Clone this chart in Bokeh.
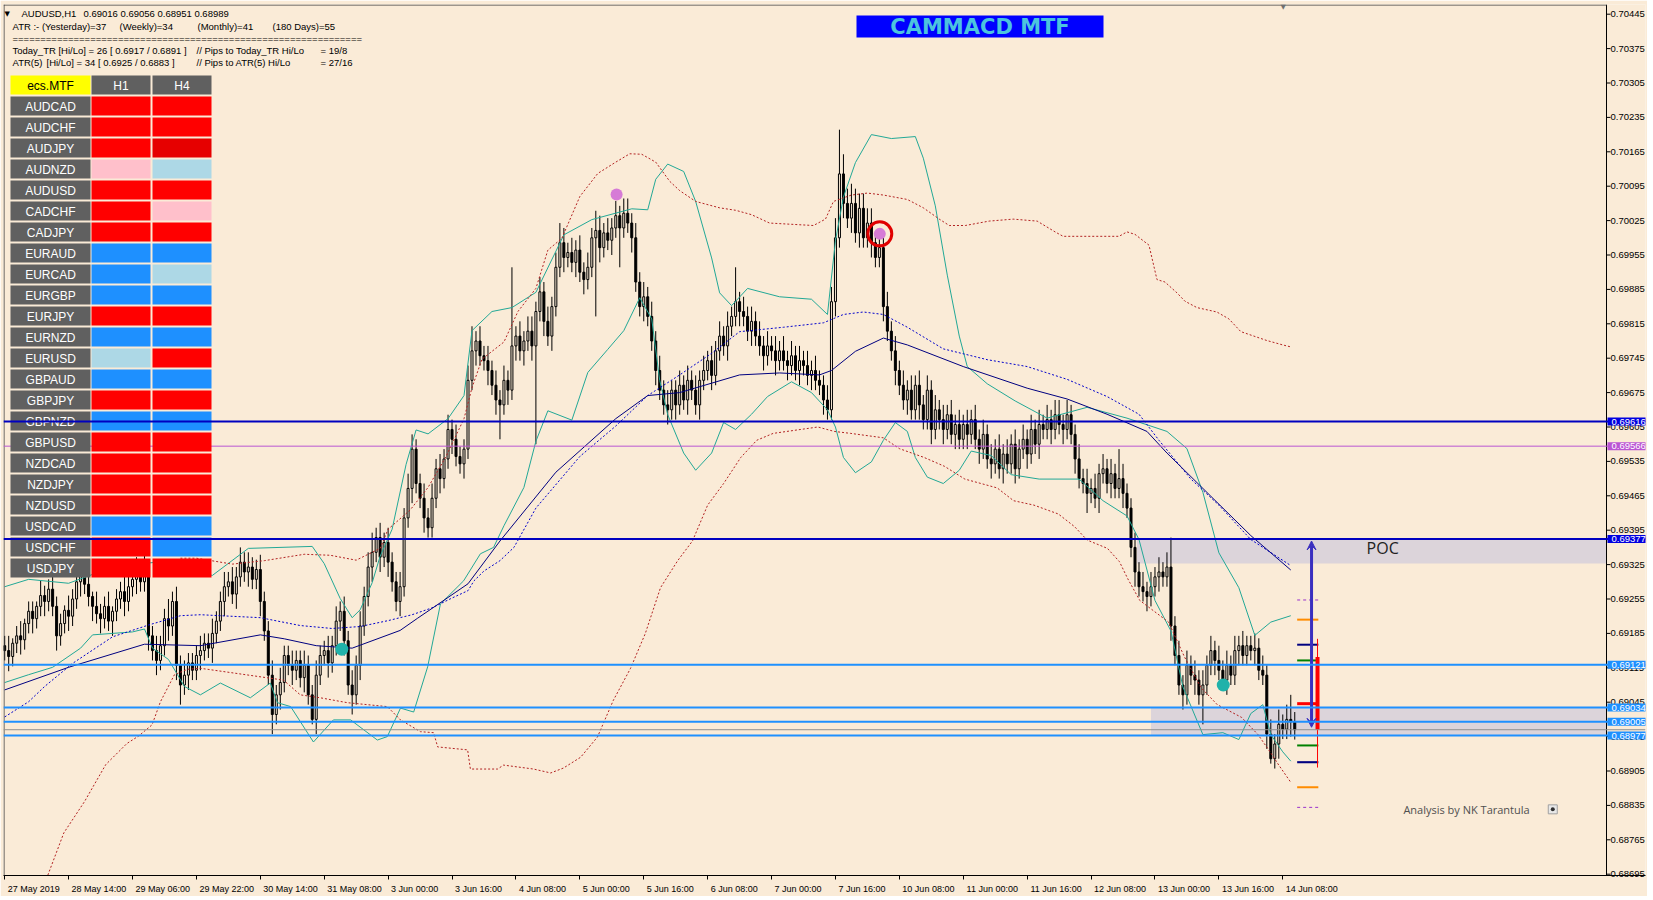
from bokeh.plotting import figure
from bokeh.models import (ColumnDataSource, FixedTicker, NumeralTickFormatter, Range1d,
                          Label, BoxAnnotation, Span, Arrow, VeeHead)
from bokeh.embed import file_html
from bokeh.resources import INLINE

BG = "#FAEBD7"
MT = "Liberation Sans"

# ---------------- price data (AUDUSD H1) ----------------
first_open = 0.69160
closes = [
    0.69150, 0.69138, 0.69165, 0.69180, 0.69172, 0.69205, 0.69230, 0.69215, 0.69240, 0.69262, 0.69250, 0.69275,
    0.69240, 0.69180, 0.69205, 0.69232, 0.69220, 0.69255, 0.69290, 0.69305, 0.69285, 0.69260, 0.69240, 0.69225,
    0.69215, 0.69240, 0.69210, 0.69230, 0.69255, 0.69270, 0.69250, 0.69280, 0.69295, 0.69310, 0.69290, 0.69305,
    0.69180, 0.69150, 0.69130, 0.69160, 0.69215, 0.69200, 0.69250, 0.69120, 0.69080, 0.69100, 0.69125, 0.69110,
    0.69140, 0.69150, 0.69165, 0.69155, 0.69185, 0.69210, 0.69250, 0.69280, 0.69290, 0.69265, 0.69300, 0.69330,
    0.69310, 0.69320, 0.69295, 0.69315, 0.69250, 0.69190, 0.69100, 0.69020, 0.69060, 0.69085, 0.69140, 0.69120,
    0.69110, 0.69130, 0.69095, 0.69120, 0.69060, 0.69010, 0.69100, 0.69140, 0.69150, 0.69125, 0.69160, 0.69210,
    0.69230, 0.69170, 0.69080, 0.69060, 0.69120, 0.69200, 0.69260, 0.69320, 0.69350, 0.69380, 0.69340, 0.69370,
    0.69330, 0.69290, 0.69250, 0.69280, 0.69420, 0.69480, 0.69560, 0.69490, 0.69460, 0.69420, 0.69400, 0.69460,
    0.69520, 0.69500, 0.69540, 0.69600, 0.69580, 0.69545, 0.69530, 0.69560, 0.69700, 0.69760, 0.69780, 0.69750,
    0.69740, 0.69720, 0.69690, 0.69660, 0.69650, 0.69700, 0.69680, 0.69770, 0.69790, 0.69760, 0.69780, 0.69800,
    0.69770, 0.69840, 0.69880, 0.69820, 0.69790, 0.69850, 0.69930, 0.69980, 0.69950, 0.69960, 0.69940, 0.69965,
    0.69920, 0.69905, 0.69930, 0.69990, 0.70005, 0.69970, 0.70000, 0.69985, 0.70010, 0.70035, 0.70010, 0.70040,
    0.70020, 0.69990, 0.69900, 0.69850, 0.69870, 0.69830, 0.69780, 0.69720, 0.69680, 0.69650, 0.69640, 0.69680,
    0.69650, 0.69690, 0.69660, 0.69700, 0.69680, 0.69650, 0.69700, 0.69720, 0.69740, 0.69710, 0.69760, 0.69790,
    0.69770, 0.69810, 0.69830, 0.69860, 0.69840, 0.69830, 0.69800, 0.69820, 0.69790, 0.69770, 0.69750, 0.69770,
    0.69760, 0.69740, 0.69760, 0.69740, 0.69730, 0.69750, 0.69720, 0.69740, 0.69730, 0.69710, 0.69720, 0.69700,
    0.69690, 0.69660, 0.69640, 0.69860, 0.69990, 0.70120, 0.70060, 0.70030, 0.70060, 0.70000, 0.70050, 0.69990,
    0.70020, 0.69980, 0.69950, 0.69970, 0.69850, 0.69800, 0.69760, 0.69720, 0.69690, 0.69660, 0.69680, 0.69640,
    0.69690, 0.69650, 0.69620, 0.69680, 0.69600, 0.69640, 0.69620, 0.69600, 0.69630, 0.69590, 0.69610, 0.69580,
    0.69610, 0.69590, 0.69620, 0.69580, 0.69560, 0.69590, 0.69540, 0.69530, 0.69560, 0.69520, 0.69550, 0.69530,
    0.69570, 0.69520, 0.69560, 0.69580, 0.69550, 0.69600, 0.69570, 0.69610, 0.69600, 0.69620, 0.69600, 0.69630,
    0.69610, 0.69600, 0.69630, 0.69590, 0.69540, 0.69500, 0.69490, 0.69470, 0.69480, 0.69460, 0.69510, 0.69520,
    0.69490, 0.69510, 0.69480, 0.69500, 0.69470, 0.69440, 0.69360, 0.69310, 0.69280, 0.69270, 0.69260, 0.69280,
    0.69300, 0.69310, 0.69300, 0.69320, 0.69200, 0.69140, 0.69080, 0.69060, 0.69120, 0.69100, 0.69090, 0.69060,
    0.69080, 0.69120, 0.69150, 0.69130, 0.69110, 0.69090, 0.69120, 0.69100, 0.69150, 0.69160, 0.69140, 0.69160,
    0.69150, 0.69155, 0.69110, 0.69100, 0.68980, 0.68930, 0.68960, 0.69000, 0.68990, 0.69010, 0.69005, 0.68989,
]
# wick lengths in pips beyond the body
hi_wick = [
    2, 3, 1, 2, 3, 1, 2, 2, 1, 3, 2, 2,
    3, 2, 2, 1, 3, 2, 2, 3, 2, 2, 1, 3,
    2, 2, 3, 1, 2, 2, 3, 2, 2, 3, 2, 4,
    3, 2, 3, 2, 2, 4, 2, 3, 2, 3, 2, 2,
    2, 3, 2, 2, 3, 2, 2, 3, 2, 3, 2, 3,
    2, 3, 2, 2, 3, 2, 2, 3, 2, 3, 2, 2,
    3, 2, 2, 3, 2, 2, 3, 2, 2, 3, 2, 3,
    2, 3, 2, 3, 2, 3, 2, 3, 4, 2, 3, 2,
    3, 2, 2, 3, 2, 3, 3, 2, 2, 3, 2, 3,
    2, 3, 2, 3, 2, 3, 2, 2, 3, 5, 2, 3,
    2, 3, 2, 3, 2, 3, 2, 16, 2, 3, 2, 3,
    3, 2, 3, 2, 3, 2, 3, 4, 3, 2, 3, 2,
    3, 2, 3, 2, 4, 3, 2, 3, 2, 3, 2, 3,
    3, 2, 3, 2, 3, 2, 3, 2, 3, 2, 3, 2,
    2, 3, 2, 3, 2, 3, 2, 3, 2, 3, 2, 3,
    2, 3, 2, 7, 2, 3, 2, 3, 2, 3, 2, 3,
    2, 3, 2, 3, 2, 3, 2, 3, 2, 3, 2, 3,
    2, 2, 3, 3, 4, 9, 4, 3, 4, 3, 3, 3,
    3, 3, 2, 3, 2, 3, 2, 3, 2, 3, 2, 3,
    2, 3, 2, 3, 2, 3, 2, 3, 2, 3, 2, 3,
    2, 3, 2, 3, 2, 3, 2, 3, 2, 3, 2, 3,
    2, 3, 2, 3, 2, 3, 2, 3, 2, 3, 2, 3,
    3, 2, 3, 2, 2, 3, 2, 3, 2, 3, 2, 3,
    2, 3, 2, 6, 3, 2, 2, 3, 2, 3, 2, 3,
    2, 3, 2, 3, 6, 2, 3, 2, 3, 2, 3, 2,
    3, 2, 3, 2, 3, 2, 3, 2, 3, 2, 3, 2,
    2, 3, 2, 3, 2, 3, 2, 3, 2, 3, 5, 2,
]
lo_wick = [
    2, 3, 2, 2, 3, 2, 2, 3, 2, 2, 3, 2,
    2, 3, 2, 2, 3, 2, 2, 3, 2, 2, 3, 2,
    3, 2, 2, 3, 2, 2, 3, 2, 2, 3, 2, 2,
    3, 2, 3, 2, 2, 3, 2, 3, 4, 2, 3, 2,
    2, 3, 2, 2, 3, 2, 2, 3, 2, 2, 3, 2,
    2, 3, 2, 2, 3, 2, 2, 4, 2, 3, 2, 2,
    3, 2, 2, 3, 2, 1, 3, 2, 2, 3, 2, 2,
    2, 3, 2, 4, 2, 3, 2, 2, 3, 2, 3, 2,
    3, 2, 2, 3, 2, 2, 3, 2, 2, 3, 2, 2,
    2, 3, 2, 2, 3, 2, 2, 3, 2, 2, 3, 2,
    2, 3, 2, 3, 7, 2, 3, 2, 3, 2, 3, 2,
    3, 20, 2, 3, 2, 3, 2, 2, 3, 2, 2, 3,
    2, 3, 2, 2, 16, 3, 2, 2, 3, 2, 8, 2,
    2, 3, 2, 2, 3, 2, 2, 3, 2, 2, 3, 2,
    3, 2, 2, 3, 2, 2, 3, 2, 2, 3, 2, 2,
    2, 3, 2, 2, 3, 2, 2, 3, 2, 2, 3, 2,
    2, 3, 2, 2, 3, 2, 2, 3, 2, 2, 3, 2,
    2, 3, 2, 2, 3, 2, 3, 2, 3, 2, 3, 2,
    2, 3, 2, 2, 3, 2, 2, 3, 2, 2, 3, 2,
    2, 3, 2, 2, 3, 2, 2, 3, 2, 2, 3, 2,
    2, 3, 2, 2, 3, 2, 2, 3, 2, 2, 3, 2,
    2, 3, 2, 2, 3, 2, 2, 3, 2, 2, 3, 2,
    2, 3, 2, 2, 3, 2, 2, 4, 2, 2, 3, 2,
    2, 3, 2, 2, 3, 2, 2, 3, 2, 2, 3, 2,
    2, 3, 2, 2, 3, 2, 2, 3, 2, 2, 3, 2,
    6, 2, 2, 3, 2, 2, 3, 2, 2, 3, 2, 2,
    2, 3, 2, 2, 3, 1, 2, 3, 2, 2, 3, 2,
]

# x axis (one date label every 16 bars)
tick_bars = [0, 16, 32, 48, 64, 80, 96, 112, 128, 144, 160, 176, 192, 208, 224, 240, 256, 272, 288, 304, 320]
x_labels = ["27 May 2019", "28 May 14:00", "29 May 06:00", "29 May 22:00", "30 May 14:00", "31 May 08:00",
            "3 Jun 00:00", "3 Jun 16:00", "4 Jun 08:00", "5 Jun 00:00", "5 Jun 16:00", "6 Jun 08:00",
            "7 Jun 00:00", "7 Jun 16:00", "10 Jun 08:00", "11 Jun 00:00", "11 Jun 16:00", "12 Jun 08:00",
            "13 Jun 00:00", "13 Jun 16:00", "14 Jun 08:00"]
price_ticks = [0.68695, 0.68765, 0.68835, 0.68905, 0.68975, 0.69045, 0.69115, 0.69185, 0.69255, 0.69325,
               0.69395, 0.69465, 0.69535, 0.69605, 0.69675, 0.69745, 0.69815, 0.69885, 0.69955, 0.70025,
               0.70095, 0.70165, 0.70235, 0.70305, 0.70375, 0.70445]

# ---------------- indicators ----------------
ma_bars = [0, 16, 35, 49, 64, 70, 78, 87, 99, 103.4, 109, 116, 124, 138, 153, 161, 169, 184, 194, 204,
           207, 213, 220, 226, 240, 256, 266, 276, 286, 291, 302, 312, 322]
ma_vals = [0.69070, 0.69116, 0.69163, 0.69160, 0.69182, 0.69174, 0.69160, 0.69155, 0.69191, 0.69216,
           0.69247, 0.69286, 0.69373, 0.69513, 0.69622, 0.69669, 0.69675, 0.69711, 0.69715, 0.69711,
           0.69720, 0.69759, 0.69786, 0.69772, 0.69728, 0.69684, 0.69662, 0.69631, 0.69596, 0.69552,
           0.69464, 0.69384, 0.69314]
dma_bars = [0, 6, 10, 17, 27, 36, 44, 49, 64, 74, 82, 89, 96, 102, 107, 112, 116, 117.5, 120, 124,
            127.5, 133, 144, 153, 161, 169, 177, 184, 195, 205, 210, 215, 220, 226, 235, 246, 256, 266, 276, 284,
            289, 297, 304, 312, 322]
dma_vals = [0.69015, 0.69046, 0.69077, 0.69124, 0.69178, 0.69202, 0.69221, 0.69223, 0.69217, 0.69201,
            0.69195, 0.69199, 0.69211, 0.69223, 0.69237, 0.69257, 0.69272, 0.69292, 0.69312, 0.69333,
            0.69360, 0.69440, 0.69545, 0.69607, 0.69669, 0.69711, 0.69755, 0.69799, 0.69808, 0.69817,
            0.69834, 0.69839, 0.69834, 0.69808, 0.69764, 0.69742, 0.69728, 0.69702, 0.69667, 0.69631,
            0.69578, 0.69499, 0.69446, 0.69376, 0.69323]
bb_up_bars = [0, 6, 16, 27, 38, 52, 61, 77, 80, 84, 87, 89, 92, 94, 97, 100.5, 103, 106, 111, 115,
              117, 122, 127, 133, 140, 147, 157, 161, 163, 166, 170, 173, 177, 179, 182, 186, 194, 202, 206, 208,
              210, 213, 217, 222, 228, 230, 233, 236, 239, 241, 246, 253, 261, 271, 281, 291, 296, 300, 304, 309,
              313, 317, 322]
bb_up_vals = [0.69280, 0.69295, 0.69287, 0.69320, 0.69330, 0.69303, 0.69358, 0.69362, 0.69327, 0.69256,
              0.69217, 0.69233, 0.69288, 0.69342, 0.69397, 0.69529, 0.69599, 0.69591, 0.69622, 0.69669,
              0.69801, 0.69840, 0.69848, 0.69879, 0.69996, 0.70027, 0.70049, 0.70047, 0.70109, 0.70140,
              0.70125, 0.70064, 0.69949, 0.69878, 0.69852, 0.69887, 0.69870, 0.69865, 0.69834, 0.69984,
              0.70073, 0.70143, 0.70200, 0.70192, 0.70196, 0.70152, 0.70055, 0.69914, 0.69790, 0.69728,
              0.69693, 0.69658, 0.69623, 0.69645, 0.69623, 0.69596, 0.69561, 0.69472, 0.69349, 0.69278,
              0.69181, 0.69208, 0.69221]
bb_lo_bars = [0, 6, 12, 19, 22, 32, 35, 37, 41, 45, 49, 54, 61.5, 66.5, 68.3, 71.6, 77.3, 82.3, 86.6, 93.3,
              95.8, 99.1, 102.4, 105.9, 109.1, 114.9, 119.1, 122.4, 125, 130, 133, 136, 142, 146, 151, 155, 159,
              162, 164, 166, 170, 173, 177, 180, 183, 187, 191, 197, 202, 206, 208, 210, 213, 217, 220, 223, 226,
              228, 231, 235, 239, 242, 247, 252, 259, 269, 275, 281, 284, 288, 292, 295, 300, 305, 309, 312, 315,
              317, 320, 322]
bb_lo_vals = [0.69085, 0.69101, 0.69116, 0.69155, 0.69182, 0.69188, 0.69194, 0.69155, 0.69132, 0.69077,
              0.69060, 0.69084, 0.69054, 0.69084, 0.69044, 0.69036, 0.68964, 0.69009, 0.69009, 0.68968,
              0.68975, 0.69033, 0.69025, 0.69117, 0.69245, 0.69292, 0.69347, 0.69360, 0.69404, 0.69482,
              0.69576, 0.69638, 0.69619, 0.69716, 0.69763, 0.69801, 0.69868, 0.69825, 0.69700, 0.69630,
              0.69552, 0.69517, 0.69552, 0.69614, 0.69600, 0.69631, 0.69667, 0.69697, 0.69675, 0.69640,
              0.69605, 0.69543, 0.69512, 0.69534, 0.69578, 0.69614, 0.69596, 0.69543, 0.69503, 0.69490,
              0.69517, 0.69556, 0.69547, 0.69508, 0.69499, 0.69499, 0.69455, 0.69424, 0.69376, 0.69252,
              0.69190, 0.69076, 0.68979, 0.68983, 0.68969, 0.69022, 0.69040, 0.68979, 0.68944, 0.68925]
ch_up_bars = [44, 48, 57, 65, 75, 81.5, 88, 94, 96, 101.5, 106, 110.5, 115, 117, 119.5, 125, 128.5, 133, 136, 139.5,
              144, 148.5, 153, 156.5, 159.5, 163, 166.5, 169, 173, 179, 183, 187, 191.5, 202.5, 205.5, 207.5,
              212, 216, 220, 226, 230, 234, 236.5, 240.5, 246.5, 252.5, 258.5, 263, 265, 279, 281, 283, 286.5,
              288.5, 290.5, 293.5, 295.5, 298.5, 303.5, 306.5, 309.5, 316, 320, 322]
ch_up_vals = [0.69338, 0.69338, 0.69326, 0.69333, 0.69346, 0.69344, 0.69334, 0.69358, 0.69397, 0.69436, 0.69482,
              0.69545, 0.69622, 0.69685, 0.69743, 0.69778, 0.69840, 0.69887, 0.69965, 0.69989, 0.70074,
              0.70121, 0.70144, 0.70161, 0.70160, 0.70144, 0.70105, 0.70086, 0.70064, 0.70051, 0.70046,
              0.70037, 0.70020, 0.70015, 0.70028, 0.70064, 0.70077, 0.70081, 0.70077, 0.70068, 0.70051,
              0.70028, 0.70015, 0.70015, 0.70024, 0.70028, 0.70024, 0.70002, 0.69993, 0.69993, 0.70002,
              0.69997, 0.69975, 0.69905, 0.69900, 0.69878, 0.69861, 0.69848, 0.69839, 0.69825, 0.69799,
              0.69781, 0.69772, 0.69768]
ch_lo_bars = [10.8, 14.8, 20, 25.3, 30.6, 33.5, 36.9, 39, 42.5, 45.8, 49, 69.8, 74, 79, 85.8, 95.8, 99.1, 104.1,
              107.4, 108.4, 115.9, 116.6, 123.4, 124.9, 132.4, 136.7, 139.9, 144.2, 148.4, 152.4, 156.7, 160.4,
              164.2, 168.5, 172.2, 176, 180, 184.3, 188.3, 192.4, 203.6, 207.7, 211.8, 220, 224, 230.2, 235.3,
              240.4, 248.5, 252.6, 257.7, 263.8, 267.9, 271, 276.1, 279.1, 281.2, 284.2, 291.4, 295.4, 299.5,
              303.6, 309.7, 313.8, 316.9, 319, 322]
ch_lo_vals = [0.68693, 0.68779, 0.68843, 0.68918, 0.68961, 0.68976, 0.68999, 0.69046, 0.69101, 0.69112,
              0.69114, 0.69090, 0.69060, 0.69054, 0.69044, 0.69036, 0.69009, 0.68985, 0.68983, 0.68954,
              0.68948, 0.68909, 0.68909, 0.68917, 0.68909, 0.68901, 0.68911, 0.68933, 0.68974, 0.69049,
              0.69114, 0.69185, 0.69278, 0.69333, 0.69373, 0.69446, 0.69490, 0.69543, 0.69578, 0.69592,
              0.69605, 0.69596, 0.69592, 0.69583, 0.69561, 0.69543, 0.69525, 0.69499, 0.69481, 0.69455,
              0.69446, 0.69428, 0.69402, 0.69375, 0.69358, 0.69331, 0.69296, 0.69252, 0.69208, 0.69137,
              0.69075, 0.69040, 0.69014, 0.68979, 0.68943, 0.68917, 0.68882]

pink_bars = [153.2, 219.1]
pink_vals = [0.70078, 0.69998]
teal_bars = [84.4, 305.1]
teal_vals = [0.69153, 0.69080]
ring_bars = [219.1]
ring_vals = [0.69998]

# horizontal levels
hline_vals = [0.69616, 0.69566, 0.69377, 0.69121, 0.69034, 0.69005, 0.68977]
hline_colors = ["#0000C0", "#BA55D3", "#0000C0", "#1E90FF", "#1E90FF", "#1E90FF", "#1E90FF"]
hline_box = ["#0000E0", "#BA55D3", "#0000E0", "#1E90FF", "#1E90FF", "#1E90FF", "#1E90FF"]
hline_widths = [2, 1, 2, 2, 2, 2, 2]
bid_price = 0.68989

# zones
zone_left = [283.5, 287.0]
zone_top = [0.69377, 0.69034]
zone_bottom = [0.69327, 0.68977]

# level ticks near the last bar
lvl_vals = [0.69253, 0.69213, 0.69162, 0.69130, 0.69042, 0.68957, 0.68923, 0.68872, 0.68831]
lvl_colors = ["#9932CC", "#FF8C00", "#000080", "#008000", "#FF0000", "#008000", "#000080", "#FF8C00", "#9932CC"]
lvl_widths = [1, 2, 2, 2, 3, 2, 2, 2, 1]
lvl_dash = ["3 3", "solid", "solid", "solid", "solid", "solid", "solid", "solid", "3 3"]
lvl_x0 = 323.6
lvl_x1 = 328.9

# daily candle and range arrow
day_bar = [328.7]
day_open = [0.69137]
day_close = [0.68989]
day_high = [0.69174]
day_low = [0.68912]
arrow_bar = 327.2
arrow_top = 0.69373
arrow_bottom = 0.68994

poc_bar, poc_price = 345.0, 0.69358
note_bar, note_price = 350.2, 0.68827
icon_bar = [387.6]
icon_price = [0.68827]

# table
pairs = ["AUDCAD", "AUDCHF", "AUDJPY", "AUDNZD", "AUDUSD", "CADCHF", "CADJPY", "EURAUD", "EURCAD", "EURGBP",
         "EURJPY", "EURNZD", "EURUSD", "GBPAUD", "GBPJPY", "GBPNZD", "GBPUSD", "NZDCAD", "NZDJPY", "NZDUSD",
         "USDCAD", "USDCHF", "USDJPY"]
R, R2, PK, LB, DB = "#FF0000", "#E60000", "#FFC0CB", "#ADD8E6", "#1E90FF"
h1_colors = [R, R, R, PK, R, R, R, DB, DB, DB, R, DB, LB, DB, R, DB, R, R, R, R, DB, R, R]
h4_colors = [R, R, R2, LB, R, PK, R, DB, LB, DB, R, DB, R, DB, R, DB, R, R, R, R, DB, DB, R]

# ---------------- layout ----------------
FRAME_L, FRAME_T, FRAME_R, FRAME_B = 3, 4, 1645, 875
PX_PER_BAR = 3.994
BAR0_X = 4.2
X_START = (FRAME_L - BAR0_X) / PX_PER_BAR
X_END = (FRAME_R - BAR0_X) / PX_PER_BAR
AXIS_X = (1606 - BAR0_X) / PX_PER_BAR
PX_PER_PRICE = 34.4 / 0.0007
Y_TOP = 0.70445 + (13.7 - FRAME_T) / PX_PER_PRICE
Y_BOT = 0.70445 - (FRAME_B - 13.7) / PX_PER_PRICE

p = figure(frame_width=FRAME_R - FRAME_L, frame_height=FRAME_B - FRAME_T,
           x_range=Range1d(X_START, X_END), y_range=Range1d(Y_BOT, Y_TOP),
           output_backend="svg", toolbar_location=None, y_axis_location="right",
           background_fill_color=BG, border_fill_color=BG, min_border=0,
           min_border_left=FRAME_L, min_border_top=FRAME_T, outline_line_color=None)
p.xgrid.grid_line_color = None
p.ygrid.grid_line_color = None

# x axis: label text starts just right of its tick, as in MT4
CW = {" ": 0.278, ":": 0.278, "M": 0.833, "a": 0.556, "y": 0.5, "J": 0.5, "u": 0.556, "n": 0.556}
XFS = 9
def text_w(s):
    return sum(CW.get(ch, 0.556) for ch in s) * XFS
label_centres = [round(t + (3 + text_w(s) / 2) / PX_PER_BAR, 2) for t, s in zip(tick_bars, x_labels)]
p.xaxis.ticker = FixedTicker(ticks=label_centres, minor_ticks=tick_bars)
p.xaxis.major_label_overrides = {c: s for c, s in zip(label_centres, x_labels)}
p.xaxis.major_tick_line_color = None
p.xaxis.major_tick_out = 0
p.xaxis.major_tick_in = 0
p.xaxis.minor_tick_line_color = "black"
p.xaxis.minor_tick_out = 4
p.xaxis.minor_tick_in = 0
p.xaxis.major_label_standoff = 4
p.xaxis.major_label_text_font = MT
p.xaxis.major_label_text_font_size = f"{XFS}px"
p.xaxis.major_label_text_color = "black"
p.xaxis.axis_line_color = "black"

# y axis: labels pulled back to sit right of the price-scale line
p.yaxis.ticker = FixedTicker(ticks=price_ticks, minor_ticks=[])
p.yaxis.formatter = NumeralTickFormatter(format="0.00000")
p.yaxis.major_label_text_font = MT
p.yaxis.major_label_text_font_size = "9.5px"
p.yaxis.major_label_text_color = "black"
p.yaxis.major_tick_out = 0
p.yaxis.major_tick_in = 0
p.yaxis.major_tick_line_color = None
p.yaxis.axis_line_color = None
p.yaxis.major_label_standoff = 1610 - FRAME_R

def sy(canvas_y):
    return FRAME_B - canvas_y

def sx(canvas_x):
    return canvas_x - FRAME_L

# zones (background)
p.quad(left=zone_left, right=[AXIS_X, AXIS_X], top=zone_top, bottom=zone_bottom,
       fill_color="#DCD4DA", line_color=None)

# price-scale line and its tick marks
p.add_layout(Span(location=AXIS_X, dimension="height", line_color="black", line_width=1))
p.segment(x0=[AXIS_X] * len(price_ticks), y0=price_ticks, x1=[AXIS_X + 1.0] * len(price_ticks),
          y1=price_ticks, line_color="black", line_width=1)

# candles
opens = [first_open] + closes[:-1]
bars = list(range(len(closes)))
highs = [max(o, c) + w * 0.0001 for o, c, w in zip(opens, closes, hi_wick)]
lows = [min(o, c) - w * 0.0001 for o, c, w in zip(opens, closes, lo_wick)]
src = ColumnDataSource(dict(
    x=bars, high=highs, low=lows,
    top=[max(o, c) for o, c in zip(opens, closes)],
    bottom=[min(o, c) for o, c in zip(opens, closes)],
    fill=[BG if c >= o else "black" for o, c in zip(opens, closes)],
))
p.segment(x0="x", y0="low", x1="x", y1="high", source=src, line_color="black", line_width=1)
p.vbar(x="x", top="top", bottom="bottom", width=0.5, fill_color="fill", line_color="black",
       line_width=1, source=src)

# indicators
p.line(bb_up_bars, bb_up_vals, line_color="#22A896", line_width=1)
p.line(bb_lo_bars, bb_lo_vals, line_color="#22A896", line_width=1)
p.line(ch_up_bars, ch_up_vals, line_color="#B22222", line_width=1, line_dash="2 2")
p.line(ch_lo_bars, ch_lo_vals, line_color="#B22222", line_width=1, line_dash="2 2")
p.line(dma_bars, dma_vals, line_color="#0000CD", line_width=1, line_dash="2 2")
p.line(ma_bars, ma_vals, line_color="#000080", line_width=1)

# markers
p.scatter(pink_bars, pink_vals, size=12, fill_color="#D67BD6", line_color=None)
p.scatter(teal_bars, teal_vals, size=13, fill_color="#20B2AA", line_color=None)
p.scatter(ring_bars, ring_vals, size=24, fill_color=None, line_color="#E00000", line_width=3)

# level ticks
for v, c, w, d in zip(lvl_vals, lvl_colors, lvl_widths, lvl_dash):
    p.segment(x0=[lvl_x0], y0=[v], x1=[lvl_x1], y1=[v], line_color=c, line_width=w, line_dash=d)

# daily candle
p.segment(x0=day_bar, y0=day_low, x1=day_bar, y1=day_high, line_color="#FF0000", line_width=1)
p.vbar(x=day_bar, top=day_open, bottom=day_close, width=1.0, fill_color="#FF0000", line_color=None)

# small icon next to the note
p.scatter(icon_bar, icon_price, marker="square", size=9, fill_color="#E8E8E8", line_color="#A0A0A0")
p.scatter(icon_bar, icon_price, marker="circle", size=4, fill_color="#303030", line_color=None)

# range arrow
ac = "#3A2FBF"
p.add_layout(Arrow(start=VeeHead(size=9, fill_color=ac, line_color=ac),
                   end=VeeHead(size=9, fill_color=ac, line_color=ac),
                   x_start=arrow_bar, y_start=arrow_bottom, x_end=arrow_bar, y_end=arrow_top,
                   line_color=ac, line_width=3))

# chart border (left, top)
def sbox(l, r, t, b, color, alpha=1.0):
    p.add_layout(BoxAnnotation(left=sx(l), right=sx(r), top=sy(t), bottom=sy(b),
                               left_units="screen", right_units="screen", top_units="screen",
                               bottom_units="screen", fill_color=color, fill_alpha=alpha,
                               line_color=None))

sbox(3, 4, 4, 875, "#404040")
sbox(3, 1606, 4, 5, "#404040")

# violet line (below table) and bid line
p.add_layout(Span(location=hline_vals[1], dimension="width", line_color=hline_colors[1],
                  line_width=hline_widths[1]))
p.add_layout(Span(location=bid_price, dimension="width", line_color="#909090", line_width=1))

# ---------------- table ----------------
col_x = [(10, 90), (91, 150), (152, 211)]
row_top0, row_pitch, row_h = 75, 21, 19
GRAY = "#606060"

def ctext(xl, xr, ytop, text, color):
    p.add_layout(Label(x=sx((xl + xr) / 2), y=sy(ytop + row_h / 2 + 0.5), x_units="screen", y_units="screen",
                       text=text, text_align="center", text_baseline="middle", text_color=color,
                       text_font=MT, text_font_size="12px"))

sbox(col_x[0][0], col_x[0][1], row_top0, row_top0 + row_h, "#FFFF00")
sbox(col_x[1][0], col_x[1][1], row_top0, row_top0 + row_h, GRAY)
sbox(col_x[2][0], col_x[2][1], row_top0, row_top0 + row_h, GRAY)
ctext(*col_x[0], row_top0, "ecs.MTF", "black")
ctext(*col_x[1], row_top0, "H1", "white")
ctext(*col_x[2], row_top0, "H4", "white")
for i, (name, c1, c4) in enumerate(zip(pairs, h1_colors, h4_colors)):
    yt = row_top0 + row_pitch * (i + 1)
    sbox(col_x[0][0], col_x[0][1], yt, yt + row_h, GRAY)
    sbox(col_x[1][0], col_x[1][1], yt, yt + row_h, c1)
    sbox(col_x[2][0], col_x[2][1], yt, yt + row_h, c4)
    ctext(*col_x[0], yt, name, "white")

# other horizontal lines (over the table)
for i, (v, c, w) in enumerate(zip(hline_vals, hline_colors, hline_widths)):
    if i == 1:
        continue
    p.add_layout(Span(location=v, dimension="width", line_color=c, line_width=w))

# price boxes on the price scale
for v, c in zip(hline_vals, hline_box):
    p.add_layout(Label(x=AXIS_X, y=v, x_offset=1, text=f"{v:.5f}", text_color="white",
                       text_font=MT, text_font_size="9.5px", text_baseline="middle",
                       text_align="left", background_fill_color=c,
                       padding=dict(left=4, right=8, top=1, bottom=1)))

# header texts
def htext(cx, cy, text, size="9.5px", font=MT, color="black"):
    p.add_layout(Label(x=sx(cx), y=sy(cy), x_units="screen", y_units="screen", text=text,
                       text_align="left", text_baseline="middle", text_color=color,
                       text_font=font, text_font_size=size))

htext(4, 13, "\u25BC", size="7px", font="DejaVu Sans")
htext(21, 13, "AUDUSD,H1")
htext(83, 13, "0.69016 0.69056 0.68951 0.68989")
htext(12, 26, "ATR :- (Yesterday)=37")
htext(119, 26, "(Weekly)=34")
htext(197, 26, "(Monthly)=41")
htext(272, 26, "(180 Days)=55")
htext(12, 38, "=" * 63)
htext(12, 50, "Today_TR [Hi/Lo] = 26 [ 0.6917 / 0.6891 ]")
htext(196, 50, "// Pips to Today_TR Hi/Lo")
htext(320, 50, "= 19/8")
htext(12, 62, "ATR(5)")
htext(46, 62, "[Hi/Lo] = 34 [ 0.6925 / 0.6883 ]")
htext(196, 62, "// Pips to ATR(5) Hi/Lo")
htext(320, 62, "= 27/16")
htext(1280, 6, "\u25BC", size="7px", font="DejaVu Sans", color="#707070")

# title box
sbox(856, 1103, 15, 37, "#0000FF")
p.add_layout(Label(x=sx(979.5), y=sy(26.5), x_units="screen", y_units="screen", text="CAMMACD MTF",
                   text_align="center", text_baseline="middle", text_color="#4CC4DE",
                   text_font="DejaVu Sans", text_font_style="bold", text_font_size="21px"))

# POC / note
p.add_layout(Label(x=poc_bar, y=poc_price, text="POC", text_align="center", text_baseline="middle",
                   text_font="Open Sans", text_font_size="16px", text_color="#222222"))
p.add_layout(Label(x=note_bar, y=note_price, text="Analysis by NK Tarantula", text_align="left",
                   text_baseline="middle", text_font="Open Sans", text_font_size="11px",
                   text_color="#505050"))

open("out.html", "w").write(file_html(p, INLINE))
